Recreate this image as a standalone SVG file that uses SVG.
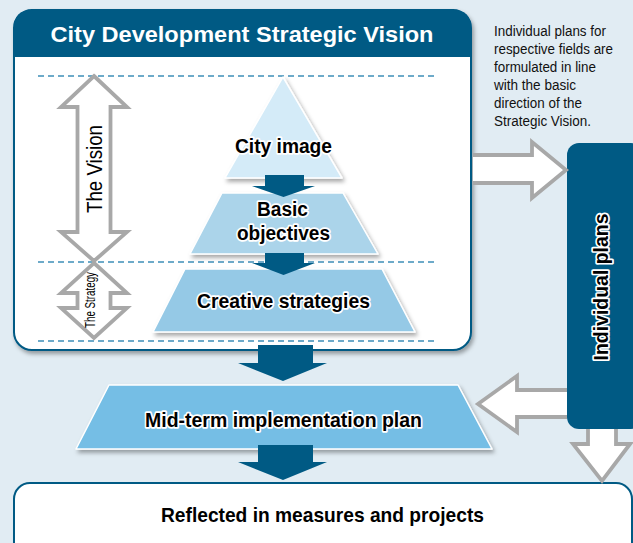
<svg xmlns="http://www.w3.org/2000/svg" width="633" height="543" viewBox="0 0 633 543">
  <style>
    .bg { fill: #e1ecf3; }
    .frame { fill: #ffffff; stroke: #005a84; stroke-width: 2; }
    .hdr { fill: #005a84; }
    .dash { stroke: #3e8fb8; stroke-width: 1.3; stroke-dasharray: 6 4; fill: none; }
    .tier { stroke: #ffffff; stroke-width: 1.5; stroke-linejoin: round; }
    .darr { fill: #005a84; }
    .garr { fill: #ffffff; stroke: #a8a8a8; stroke-width: 3.8; stroke-linejoin: miter; }
    .t { font-family: "Liberation Sans Narrow", "Liberation Sans", Arial, sans-serif; }
    .halo { font-weight: bold; fill: #000000; stroke: #ffffff; stroke-width: 3.5; stroke-linejoin: round; paint-order: stroke; text-anchor: middle; }
  </style>
  <defs>
    <filter id="sh" x="-10%" y="-10%" width="130%" height="140%">
      <feDropShadow dx="2" dy="3" stdDeviation="2" flood-color="#000000" flood-opacity="0.35"/>
    </filter>
  </defs>

  <rect class="bg" x="0" y="0" width="633" height="543"/>

  <!-- Main vision box -->
  <g id="vision-box">
    <rect class="frame" x="14" y="10" width="457" height="340" rx="18" filter="url(#sh)"/>
    <path class="hdr" d="M14,57 V28 Q14,10 32,10 H453 Q471,10 471,28 V57 Z"/>
    <text class="t" x="242" y="42" font-size="21.5" font-weight="bold" fill="#ffffff" text-anchor="middle" textLength="383" lengthAdjust="spacingAndGlyphs">City Development Strategic Vision</text>
    <line class="dash" x1="38" y1="76" x2="437" y2="76"/>
    <line class="dash" x1="38" y1="262" x2="437" y2="262"/>
    <line class="dash" x1="38" y1="341" x2="437" y2="341"/>
  </g>

  <!-- Description text -->
  <g id="note" class="t" font-size="14" fill="#111111">
    <text x="494" y="36" textLength="112" lengthAdjust="spacingAndGlyphs">Individual plans for</text>
    <text x="494" y="54" textLength="119" lengthAdjust="spacingAndGlyphs">respective fields are</text>
    <text x="494" y="72" textLength="102" lengthAdjust="spacingAndGlyphs">formulated in line</text>
    <text x="494" y="90" textLength="82" lengthAdjust="spacingAndGlyphs">with the basic</text>
    <text x="494" y="108" textLength="88" lengthAdjust="spacingAndGlyphs">direction of the</text>
    <text x="494" y="126" textLength="97" lengthAdjust="spacingAndGlyphs">Strategic Vision.</text>
  </g>

  <!-- The Vision arrow -->
  <g id="the-vision">
    <polygon class="garr" points="94,76 127,107 110.5,107 110.5,232 127,232 94,261 61,232 77.5,232 77.5,107 61,107"/>
    <text class="t" transform="translate(94,169) rotate(-90)" x="0" y="7.5" font-size="22" fill="#000000" text-anchor="middle" textLength="88" lengthAdjust="spacingAndGlyphs">The Vision</text>
  </g>

  <!-- The Strategy arrow -->
  <g id="the-strategy">
    <polygon class="garr" points="94,263 127,293 110.5,293 110.5,308 127,308 94,338 61,308 77.5,308 77.5,293 61,293"/>
    <text class="t" transform="translate(93,300) rotate(-90)" x="0" y="1.5" font-size="15" fill="#000000" text-anchor="middle" textLength="56" lengthAdjust="spacingAndGlyphs">The Strategy</text>
  </g>

  <!-- Pyramid tiers -->
  <g id="city-image">
    <polygon class="tier" fill="#d4ebf8" points="283,77 342,178 225,178" filter="url(#sh)"/>
    <text class="t halo" x="283.5" y="153" font-size="20" textLength="97" lengthAdjust="spacingAndGlyphs">City image</text>
  </g>
  <g id="basic-objectives">
    <polygon class="tier" fill="#abd4ea" points="222,193 343,193 378,254 190,254" filter="url(#sh)"/>
    <text class="t halo" x="282.5" y="216" font-size="20" textLength="51" lengthAdjust="spacingAndGlyphs">Basic</text>
    <text class="t halo" x="283.5" y="240" font-size="20" textLength="93" lengthAdjust="spacingAndGlyphs">objectives</text>
  </g>
  <g id="creative-strategies">
    <polygon class="tier" fill="#95c9e6" points="185,269 382,269 415,332 153,332" filter="url(#sh)"/>
    <text class="t halo" x="283.5" y="308" font-size="21" textLength="173" lengthAdjust="spacingAndGlyphs">Creative strategies</text>
  </g>

  <!-- Mid-term implementation plan -->
  <g id="mid-term-plan">
    <polygon class="tier" fill="#74bee5" points="109,385 458,385 492,449 76,449" filter="url(#sh)"/>
    <text class="t halo" x="283.5" y="427" font-size="21" textLength="277" lengthAdjust="spacingAndGlyphs">Mid-term implementation plan</text>
  </g>

  <!-- Individual plans -->
  <g id="individual-plans">
    <rect x="567" y="143" width="76" height="286" rx="12" fill="#005a84"/>
    <text class="t halo" transform="translate(600,287) rotate(-90)" x="0" y="8" font-size="20" textLength="147" lengthAdjust="spacingAndGlyphs">Individual plans</text>
  </g>

  <!-- Reflected in measures and projects -->
  <g id="measures-projects">
    <rect class="frame" x="14" y="483" width="618" height="90" rx="16"/>
    <text class="t" x="322.5" y="522" font-size="21" font-weight="bold" fill="#000000" text-anchor="middle" textLength="323" lengthAdjust="spacingAndGlyphs">Reflected in measures and projects</text>
  </g>

  <!-- Connectors -->
  <g id="connectors">
    <polygon class="darr" points="265,175 304,175 304,186 315,186 283.5,197 252,186 265,186"/>
    <polygon class="darr" points="265,253 304,253 304,263 315,263 283.5,275 252,263 265,263"/>
    <polygon class="darr" points="258,345 313,345 313,363 327,363 283,381 238,363 258,363"/>
    <polygon class="darr" points="258,445 313,445 313,462 327,462 283,480 238,462 258,462"/>
    <path class="garr" d="M473,155 H532 V142 L566,170 L532,198 V183 H473"/>
    <path class="garr" d="M567,390 H517 V376 L478,404 L517,432 V417 H567"/>
    <path class="garr" d="M588,429 V444 H573 L602,481 L630,444 H616 V429"/>
  </g>
</svg>
